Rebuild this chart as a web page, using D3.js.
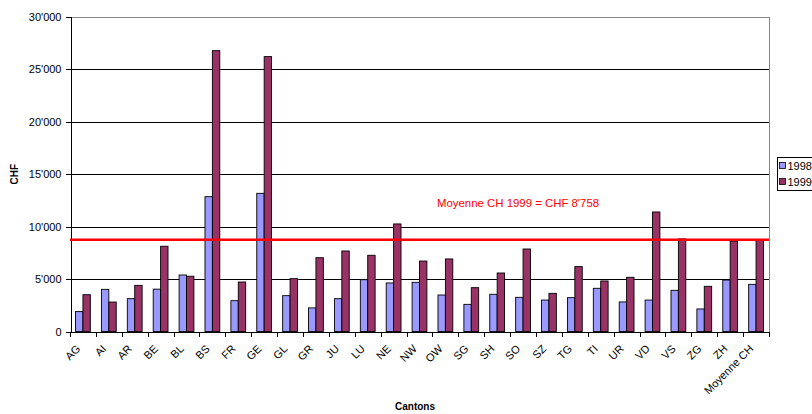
<!DOCTYPE html>
<html>
<head>
<meta charset="utf-8">
<script src="https://cdn.jsdelivr.net/npm/d3@7/dist/d3.min.js"></script>
<style>
  html, body { margin: 0; padding: 0; background: #fff; overflow: hidden; }
  svg { display: block; font-family: "Liberation Sans", Arial, sans-serif; }
</style>
</head>
<body>
<svg id="chart" width="812" height="414"></svg>
<script>
// Cantonal values in CHF, 1998 and 1999
const cantons = ["AG","AI","AR","BE","BL","BS","FR","GE","GL","GR","JU","LU","NE","NW","OW","SG","SH","SO","SZ","TG","TI","UR","VD","VS","ZG","ZH","Moyenne CH"];
const values1998 = [1900, 4020, 3130, 4040, 5390, 12860, 2940, 13180, 3420, 2250, 3130, 4940, 4630, 4690, 3480, 2590, 3550, 3260, 3000, 3230, 4120, 2820, 3000, 3930, 2150, 4910, 4500];
const values1999 = [3510, 2810, 4400, 8130, 5270, 26790, 4720, 26220, 5040, 7040, 7680, 7270, 10260, 6720, 6920, 4180, 5580, 7870, 3640, 6190, 4820, 5170, 11400, 8830, 4310, 8630, 8758];
const seriesNames = ["1998", "1999"];
const seriesColors = ["#9999ff", "#993366"];
const yTicks = [0, 5000, 10000, 15000, 20000, 25000, 30000];
const meanValue1999 = 8758;
const meanLabel = "Moyenne CH 1999 = CHF 8'758";

const svg = d3.select("#chart");
const plot = { left: 70, top: 17, right: 769, bottom: 331.5 };

const x = d3.scaleBand().domain(cantons).range([plot.left, plot.right]).paddingInner(0).paddingOuter(0);
const y = d3.scaleLinear().domain([0, 30000]).range([plot.bottom, plot.top]);
// two bars per category, gap equal to 1.5 bar widths
const barW = x.bandwidth() / 3.5;
const xs = d3.scaleBand().domain([0, 1]).range([0, barW * 2]);
const fmt = v => d3.format(",")(v).replace(/,/g, "'");

// plot area frame (top and right)
svg.append("path")
  .attr("d", `M${plot.left},${plot.top + 0.5}H${plot.right}V${plot.bottom}`)
  .attr("fill", "none").attr("stroke", "#888").attr("stroke-width", 1)
  .attr("shape-rendering", "crispEdges");

// horizontal gridlines
svg.append("g").selectAll("line")
  .data(yTicks.filter(t => t > 0 && t < 30000))
  .join("line")
  .attr("x1", plot.left).attr("x2", plot.right)
  .attr("y1", d => Math.round(y(d)) + 0.5).attr("y2", d => Math.round(y(d)) + 0.5)
  .attr("stroke", "#000").attr("stroke-width", 1)
  .attr("shape-rendering", "crispEdges");

// bars
const groups = svg.append("g").selectAll("g")
  .data(cantons.map((c, i) => ({ c, v: [values1998[i], values1999[i]] })))
  .join("g")
  .attr("transform", d => `translate(${x(d.c) + (x.bandwidth() - barW * 2) / 2},0)`);

groups.selectAll("rect")
  .data(d => d.v.map((v, k) => ({ v, k })))
  .join("rect")
  .attr("x", d => xs(d.k))
  .attr("width", xs.bandwidth())
  .attr("y", d => y(d.v))
  .attr("height", d => y(0) - y(d.v))
  .attr("fill", d => seriesColors[d.k])
  .attr("stroke", "#000").attr("stroke-width", 0.9);

// Y axis
const yAxis = d3.axisLeft(y).tickValues(yTicks).tickSize(5).tickPadding(4).tickFormat(fmt);
const gy = svg.append("g").attr("transform", `translate(${plot.left + 0.5},0)`).call(yAxis);
gy.select(".domain").attr("stroke", "#000").attr("shape-rendering", "crispEdges");
gy.selectAll(".tick line").attr("stroke", "#000").attr("shape-rendering", "crispEdges");
gy.selectAll(".tick text").attr("font-size", 11).attr("fill", "#000")
  .attr("font-family", "'Liberation Sans', Arial, sans-serif");

// X axis with ticks on category boundaries
const bounds = cantons.map(c => x(c)).concat([plot.right]);
const gx = svg.append("g");
gx.append("line")
  .attr("x1", plot.left).attr("x2", plot.right)
  .attr("y1", Math.round(plot.bottom) + 0.5).attr("y2", Math.round(plot.bottom) + 0.5)
  .attr("stroke", "#000").attr("shape-rendering", "crispEdges");
gx.selectAll("line.tk").data(bounds).join("line").attr("class", "tk")
  .attr("x1", d => Math.round(d) + 0.5).attr("x2", d => Math.round(d) + 0.5)
  .attr("y1", Math.round(plot.bottom)).attr("y2", Math.round(plot.bottom) + 5)
  .attr("stroke", "#000").attr("shape-rendering", "crispEdges");
gx.selectAll("text").data(cantons).join("text")
  .attr("transform", d => `translate(${x(d) + x.bandwidth() / 2 - 2},${plot.bottom + 18}) rotate(-45)`)
  .attr("text-anchor", "end")
  .attr("font-size", 11)
  .text(d => d);

// national mean line and its label
svg.append("line")
  .attr("x1", plot.left).attr("x2", plot.right)
  .attr("y1", y(meanValue1999)).attr("y2", y(meanValue1999))
  .attr("stroke", "#ff0000").attr("stroke-width", 2.5);
svg.append("text")
  .attr("x", 437).attr("y", 207)
  .attr("fill", "#ff0000").attr("font-size", 11.4)
  .text(meanLabel);

// axis titles
svg.append("text")
  .attr("transform", `translate(18,${(plot.top + plot.bottom) / 2}) rotate(-90)`)
  .attr("text-anchor", "middle").attr("font-weight", "bold").attr("font-size", 10)
  .text("CHF");
svg.append("text")
  .attr("x", 415).attr("y", 410)
  .attr("text-anchor", "middle").attr("font-weight", "bold").attr("font-size", 10)
  .text("Cantons");

// legend
const lg = svg.append("g").attr("transform", "translate(777.5,157.5)");
lg.append("rect").attr("width", 60).attr("height", 33)
  .attr("fill", "#fff").attr("stroke", "#000").attr("stroke-width", 1);
seriesNames.forEach((name, k) => {
  const row = lg.append("g").attr("transform", `translate(2,${5 + k * 16})`);
  row.append("rect").attr("width", 6).attr("height", 6)
    .attr("fill", seriesColors[k]).attr("stroke", "#000").attr("stroke-width", 0.8);
  row.append("text").attr("x", 8).attr("y", 7).attr("font-size", 11).text(name);
});
</script>
</body>
</html>
